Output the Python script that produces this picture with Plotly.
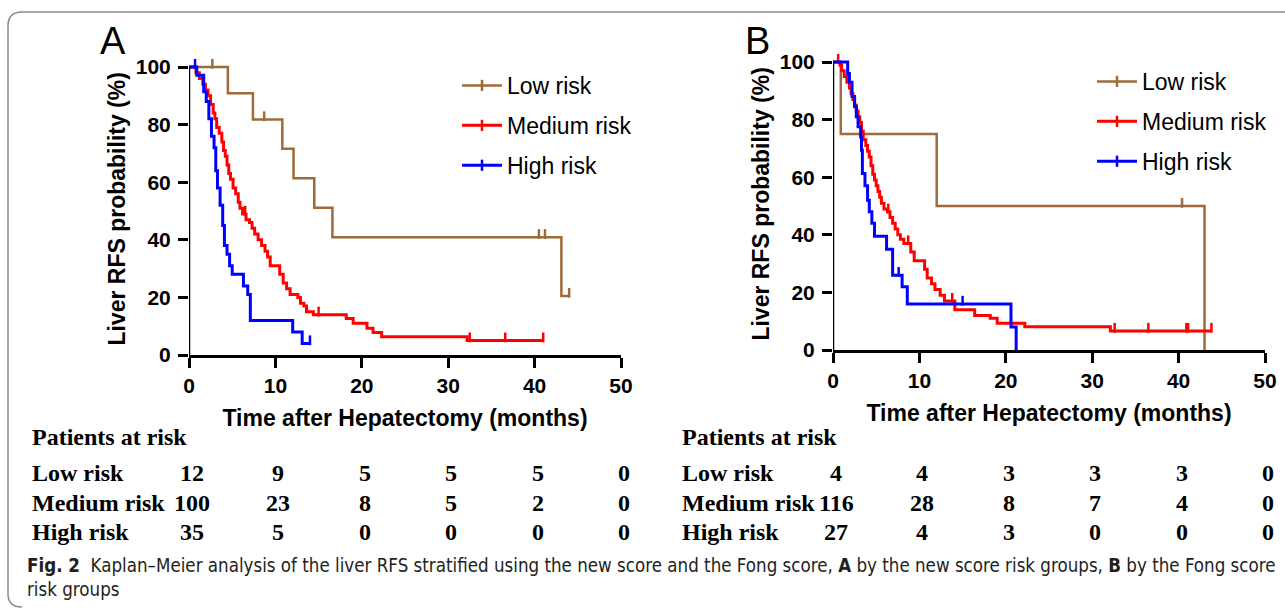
import plotly.graph_objects as go

W, H = 1285, 609

# ---------------- data ----------------
month_ticks = [0, 10, 20, 30, 40, 50]
prob_ticks = [0, 20, 40, 60, 80, 100]
group_names = ["Low risk", "Medium risk", "High risk"]

# Panel A: new score risk groups (step times in months, survival %)
a_low_t = [0, 4.5, 7.4, 10.8, 12.1, 14.5, 16.6, 43.1, 44.0]
a_low_s = [100, 90.9, 81.8, 71.6, 61.4, 51.1, 40.9, 20.5, 20.5]
a_low_cens = [2.7, 8.7, 40.5, 41.2, 44.0]

a_med_t = [0, 0.8, 1.2, 1.6, 1.9, 2.2, 2.5, 2.8, 3.0, 3.2, 3.5, 3.8, 4.0, 4.2, 4.4,
           4.6, 4.8, 5.1, 5.4, 5.7, 5.9, 6.2, 6.6, 7.0, 7.3, 7.6, 8.0, 8.4, 8.8, 9.1,
           9.4, 10.5, 10.9, 11.3, 11.7, 12.6, 12.9, 13.3, 13.6, 14.4, 18.2, 19.0, 20.6,
           21.3, 22.3, 32.2, 41.0]
a_med_s = [100, 98, 96, 94, 92, 90, 87, 84, 82, 79, 77, 74, 71, 69, 66,
           63, 61, 58, 56, 53, 51, 49, 47, 46, 44, 42, 40, 38, 36, 34,
           31, 28, 25, 23, 21, 20, 18, 17, 15, 14, 12.7, 11, 9.3,
           7.8, 6.3, 5.0, 5.0]
a_med_cens = [6.5, 15.0, 32.5, 36.6, 41.0]

a_high_t = [0, 0.9, 1.7, 2.0, 2.3, 2.6, 2.9, 3.1, 3.3, 3.6, 3.9, 4.1, 4.4, 4.7, 5.0,
            6.3, 6.8, 7.1, 12.0, 13.1, 14.0]
a_high_s = [100, 97.1, 91.4, 88, 82, 76, 72, 64, 58, 52, 45, 38, 35, 31, 28,
            24, 21, 12, 8, 4, 4]
a_high_cens = [0.7, 14.0]

# Panel B: Fong score risk groups
b_low_t = [0, 0.9, 12.0, 43.0]
b_low_s = [100, 75, 50, 0]
b_low_cens = [40.4]

b_med_t = [0, 0.8, 1.0, 1.3, 1.6, 1.9, 2.1, 2.3, 2.5, 2.7, 2.9, 3.1, 3.3, 3.5, 3.8,
           4.0, 4.2, 4.4, 4.6, 4.8, 5.0, 5.2, 5.4, 5.6, 5.9, 6.3, 6.6, 6.9, 7.2, 7.5,
           7.8, 8.2, 9.0, 9.4, 10.6, 10.9, 11.4, 11.8, 12.4, 12.9, 14.1, 16.4, 18.2,
           19.0, 22.2, 32.1, 43.8]
b_med_s = [100, 99, 97, 95, 93, 91, 89, 87, 85, 83, 81, 79, 76, 73, 71,
           69, 67, 64, 61, 59, 57, 55, 53, 51, 49, 48, 46, 44, 42, 40,
           38.5, 37, 34, 31, 28, 25, 23, 21, 19, 17, 14, 12, 11,
           9.3, 8.1, 6.6, 6.6]
b_med_cens = [0.6, 6.4, 8.7, 13.8, 32.6, 36.5, 40.9, 41.1, 43.8]

b_high_t = [0, 1.7, 1.9, 2.2, 2.5, 2.7, 2.9, 3.2, 3.3, 3.4, 3.7, 4.0, 4.2, 4.5, 4.8,
            6.2, 6.9, 8.0, 8.6, 20.6, 21.2]
b_high_s = [100, 96, 93, 88, 84.5, 81, 77.5, 74, 69.4, 61.3, 57, 52, 48, 44, 39.5,
            35, 26, 22, 16, 8, 0]
b_high_cens = [7.6, 15.0]

# numbers at risk (at months 0,10,...,50)
a_risk_low = [12, 9, 5, 5, 5, 0]
a_risk_med = [100, 23, 8, 5, 2, 0]
a_risk_high = [35, 5, 0, 0, 0, 0]
b_risk_low = [4, 4, 3, 3, 3, 0]
b_risk_med = [116, 28, 8, 7, 4, 0]
b_risk_high = [27, 4, 3, 0, 0, 0]

caption = ("<b>Fig. 2</b>  Kaplan–Meier analysis of the liver RFS stratified using the new score "
           "and the Fong score, <b>A</b> by the new score risk groups, <b>B</b> by the Fong score"
           "<br>risk groups")

# ---------------- style ----------------
C_LOW, C_MED, C_HIGH = "#9E6B3B", "#FF0000", "#0000FF"
SANS = "Liberation Sans, Arial, sans-serif"
SERIF = "Liberation Serif, Times New Roman, serif"
TICK_OFF = 1.1  # censor tick drawn upward from the step (in % units)


def px(x):
    return x / W


def py(y):
    return 1 - y / H


def s_at(ts, ss, t):
    v = ss[0]
    for ti, si in zip(ts, ss):
        if ti <= t:
            v = si
    return v


fig = go.Figure()


def add_group(t, s, cens, color, name, xa, ya, legend, lw=3):
    fig.add_trace(go.Scatter(x=t, y=s, mode="lines", xaxis=xa, yaxis=ya,
                             line=dict(color=color, width=lw, shape="hv"),
                             showlegend=False, hoverinfo="skip"))
    cy = [s_at(t, s, c) + TICK_OFF for c in cens]
    fig.add_trace(go.Scatter(x=cens, y=cy, mode="markers", xaxis=xa, yaxis=ya,
                             marker=dict(symbol="line-ns", size=7,
                                         line=dict(color=color, width=2.5)),
                             cliponaxis=False, showlegend=False, hoverinfo="skip"))
    fig.add_trace(go.Scatter(x=[None], y=[None], mode="lines+markers", xaxis=xa, yaxis=ya,
                             name=name, legend=legend, legendgroup=legend + name,
                             line=dict(color=color, width=lw),
                             marker=dict(symbol="line-ns", size=8,
                                         line=dict(color=color, width=2.5))))


add_group(a_low_t, a_low_s, a_low_cens, C_LOW, group_names[0], "x", "y", "legend", 2.5)
add_group(a_med_t, a_med_s, a_med_cens, C_MED, group_names[1], "x", "y", "legend")
add_group(a_high_t, a_high_s, a_high_cens, C_HIGH, group_names[2], "x", "y", "legend")
add_group(b_low_t, b_low_s, b_low_cens, C_LOW, group_names[0], "x2", "y2", "legend2", 2.5)
add_group(b_med_t, b_med_s, b_med_cens, C_MED, group_names[1], "x2", "y2", "legend2")
add_group(b_high_t, b_high_s, b_high_cens, C_HIGH, group_names[2], "x2", "y2", "legend2")

tickfont = dict(family=SANS, size=21, color="black", weight="bold")
titlefont = dict(family=SANS, size=23, color="black", weight="bold")


def xaxis(domain, anchor):
    return dict(domain=domain, anchor=anchor, range=[0, 50], tickvals=month_ticks,
                showline=True, linewidth=2.5, linecolor="black", ticks="outside",
                ticklen=10, tickwidth=2.5, tickcolor="black", tickfont=tickfont,
                showgrid=False, zeroline=False, fixedrange=True, automargin=False,
                title=dict(text="Time after Hepatectomy (months)", font=titlefont, standoff=14))


def yaxis(domain, anchor):
    return dict(domain=domain, anchor=anchor, range=[0, 101.5], tickvals=prob_ticks,
                showline=False, ticks="outside", ticklen=10, tickwidth=2.5,
                tickcolor="black", tickfont=tickfont, showgrid=False, zeroline=False,
                fixedrange=True, ticklabelstandoff=3, automargin=False,
                title=dict(text="Liver RFS probability (%)", font=titlefont, standoff=3))


legend_common = dict(xanchor="left", yanchor="top", bgcolor="rgba(0,0,0,0)",
                     font=dict(family=SANS, size=23, color="black"),
                     traceorder="grouped", tracegroupgap=7, itemwidth=40)

fig.update_layout(
    width=W, height=H, margin=dict(l=0, r=0, t=0, b=0, pad=0, autoexpand=False),
    paper_bgcolor="white", plot_bgcolor="white",
    xaxis=xaxis([px(189), px(621)], "y"),
    yaxis=yaxis([py(355), py(62.7)], "x"),
    xaxis2=xaxis([px(833), px(1265)], "y2"),
    yaxis2=yaxis([py(350), py(57.7)], "x2"),
    legend=dict(x=px(457), y=py(64), **legend_common),
    legend2=dict(x=px(1092), y=py(60), **legend_common),
)

# y axis lines only from 0 to 100
for xr, yr in (("x", "y"), ("x2", "y2")):
    fig.add_shape(type="line", xref=xr, yref=yr, x0=0, x1=0, y0=0, y1=prob_ticks[-1],
                  line=dict(color="black", width=2.5))

# panel letters
for letter, lx in (("A", 113), ("B", 757)):
    fig.add_annotation(text=letter, x=px(lx), y=py(41), xref="paper", yref="paper",
                       xanchor="center", yanchor="middle", showarrow=False,
                       font=dict(family=SANS, size=38, color="black"))

# at-risk tables
tfont = dict(family=SERIF, size=24, color="black", weight="bold")
rows_y = [473, 503, 532]
for xa, lx, risks in (("x", 30, (a_risk_low, a_risk_med, a_risk_high)),
                      ("x2", 680, (b_risk_low, b_risk_med, b_risk_high))):
    fig.add_annotation(text="Patients at risk", x=px(lx), y=py(437), xref="paper", yref="paper",
                       xanchor="left", yanchor="middle", showarrow=False, font=tfont)
    for ry, name, vals in zip(rows_y, group_names, risks):
        fig.add_annotation(text=name, x=px(lx), y=py(ry), xref="paper", yref="paper",
                           xanchor="left", yanchor="middle", showarrow=False, font=tfont)
        for mt, v in zip(month_ticks, vals):
            fig.add_annotation(text=str(v), x=mt, y=py(ry), xref=xa, yref="paper",
                               xanchor="center", yanchor="middle", xshift=3,
                               showarrow=False, font=tfont)

# caption
fig.add_annotation(text=caption, x=px(25), y=py(553), xref="paper", yref="paper",
                   xanchor="left", yanchor="top", align="left", showarrow=False,
                   font=dict(family="Liberation Sans Narrow, DejaVu Sans Condensed, sans-serif",
                             size=18.6, color="#231f20"))

# frame
frame = (f"M {px(1285)},{py(12)} L {px(22)},{py(12)} Q {px(8)},{py(12)} {px(8)},{py(26)} "
         f"L {px(8)},{py(594)} Q {px(8)},{py(607)} {px(22)},{py(607)}")
fig.add_shape(type="path", xref="paper", yref="paper", path=frame,
              line=dict(color="#8a8a8a", width=1.5))

fig.write_html("out.html", config={"displayModeBar": False},
               post_script="document.body.style.margin='0';")
